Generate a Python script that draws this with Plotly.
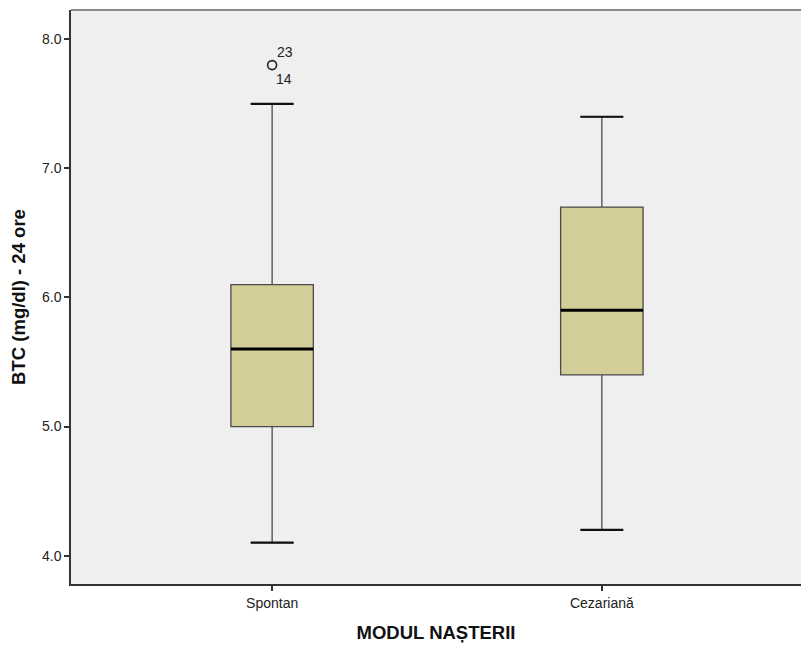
import plotly.graph_objects as go

# Box summary per delivery mode
categories = ["Spontan", "Cezariană"]
q1 = [5.0, 5.4]
medians = [5.6, 5.9]
q3 = [6.1, 6.7]
lower_whisker = [4.1, 4.2]
upper_whisker = [7.5, 7.4]

# Outliers (case numbers shown beside the marker)
outlier_cat = ["Spontan"]
outlier_val = [7.8]
outlier_cases = [("23", 13, 13), ("14", 12, -14)]

y_ticks = [4.0, 5.0, 6.0, 7.0, 8.0]

BOX_FILL = "rgb(211,206,152)"
BOX_LINE = "#4a4a4a"
BOX_WIDTH = 0.25
CAP_WIDTH = 0.13
FONT = "Arial, Liberation Sans"

fig = go.Figure()

fig.add_trace(go.Box(
    x=categories,
    q1=q1, median=medians, q3=q3,
    lowerfence=lower_whisker, upperfence=upper_whisker,
    fillcolor=BOX_FILL,
    line=dict(color=BOX_LINE, width=1.3),
    width=BOX_WIDTH,
    whiskerwidth=0.52,
    boxpoints=False,
    hoverinfo="skip",
    showlegend=False,
))

fig.add_trace(go.Scatter(
    x=outlier_cat, y=outlier_val,
    mode="markers",
    marker=dict(symbol="circle-open", size=9, color="#222", line=dict(width=1.6)),
    hoverinfo="skip", showlegend=False,
))

for (label, dx, dy) in outlier_cases:
    fig.add_annotation(
        x=outlier_cat[0], y=outlier_val[0], text=label, showarrow=False,
        xshift=dx, yshift=dy,
        font=dict(family=FONT, size=14, color="#222"),
    )

# Thick median bars and whisker caps
for i, m in enumerate(medians):
    fig.add_shape(
        type="line", xref="x", yref="y",
        x0=i - BOX_WIDTH / 2, x1=i + BOX_WIDTH / 2, y0=m, y1=m,
        line=dict(color="black", width=3),
    )
    for w in (lower_whisker[i], upper_whisker[i]):
        fig.add_shape(
            type="line", xref="x", yref="y",
            x0=i - CAP_WIDTH / 2, x1=i + CAP_WIDTH / 2, y0=w, y1=w,
            line=dict(color="#111", width=2.2),
        )

# Top frame line
fig.add_shape(
    type="line", xref="paper", yref="paper", x0=0, x1=1, y0=1, y1=1,
    line=dict(color="#8a8a8a", width=2),
)

fig.update_layout(
    width=801, height=647,
    margin=dict(l=70.5, r=0, t=10, b=63),
    paper_bgcolor="white",
    plot_bgcolor="#efefef",
    font=dict(family=FONT, color="#222"),
    xaxis=dict(
        type="category",
        range=[-0.61, 1.604],
        showgrid=False, zeroline=False,
        showline=True, linecolor="#333", linewidth=1.5,
        ticks="outside", ticklen=5, tickcolor="#333", tickwidth=1.5,
        tickfont=dict(size=14, color="#222"),
        title=dict(text="<b>MODUL NAȘTERII</b>", font=dict(size=18.5, color="#111"), standoff=17),
    ),
    yaxis=dict(
        range=[3.78, 8.227],
        tickvals=y_ticks,
        ticktext=[f"{v:.1f}" for v in y_ticks],
        showgrid=False, zeroline=False,
        showline=True, linecolor="#333", linewidth=1.5,
        ticks="outside", ticklen=5, tickcolor="#333", tickwidth=1.5,
        tickfont=dict(size=14, color="#222"),
        title=dict(text="<b>BTC (mg/dl) - 24 ore</b>", font=dict(size=18.5, color="#111"), standoff=12),
    ),
)

fig.write_html("out.html")
